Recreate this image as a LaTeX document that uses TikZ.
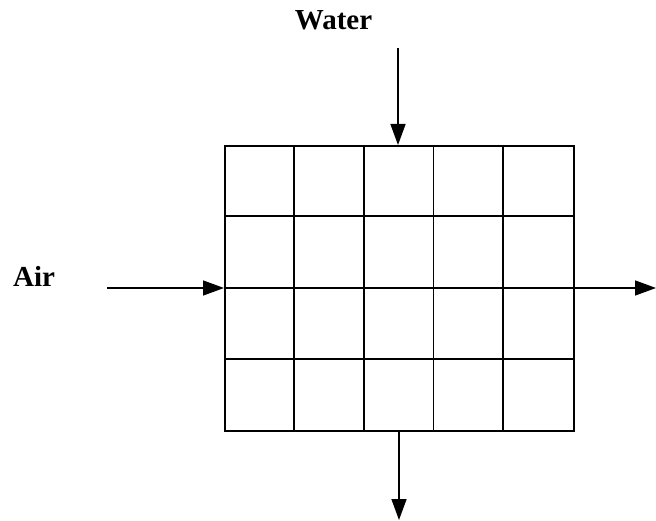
\documentclass[tikz,border=0pt]{standalone}
\usepackage{fontspec}
\setmainfont{Liberation Serif}
\usetikzlibrary{arrows.meta,calc}
\begin{document}
\begin{tikzpicture}[x=1pt,y=-1pt,
  lbl/.style={font=\fontsize{29}{32}\selectfont\bfseries, inner sep=0pt},
  gridline/.style={line width=1.8pt},
  flow/.style={line width=1.5pt, -{Triangle[length=21pt,width=15pt]}}]
\useasboundingbox (0,0) rectangle (656,521);
% grid frame node
\node[draw, gridline, minimum width=349pt, minimum height=285pt, inner sep=0pt, anchor=north west] (box) at (224,145) {};
\foreach \i in {1,2,3,4} {
  \draw[gridline] ($(box.north west)+(\i*69.8,0)$) -- ($(box.south west)+(\i*69.8,0)$);
}
\foreach \j in {1,2,3} {
  \draw[gridline] ($(box.north west)+(0,\j*71.25)$) -- ($(box.north east)+(0,\j*71.25)$);
}
% labels
\node[lbl, anchor=base] (water) at (333.5,30) {Water};
\node[lbl, anchor=base west] (air) at (13,287) {Air};
% arrow endpoints
\coordinate (wtop) at (398,48);
\coordinate (wend) at (398,145);
\coordinate (astart) at (107,288);
\coordinate (aend) at (224,288);
\coordinate (rend) at (656,288);
\coordinate (bstart) at (399,430);
\coordinate (bend) at (399,520);
\draw[flow] (wtop) -- (wend);
\draw[flow] (astart) -- (aend);
\draw[line width=1.5pt] (aend) -- (box.east |- aend);
\draw[flow] (box.east |- aend) -- (rend);
\draw[flow] (bstart) -- (bend);
\end{tikzpicture}
\end{document}
